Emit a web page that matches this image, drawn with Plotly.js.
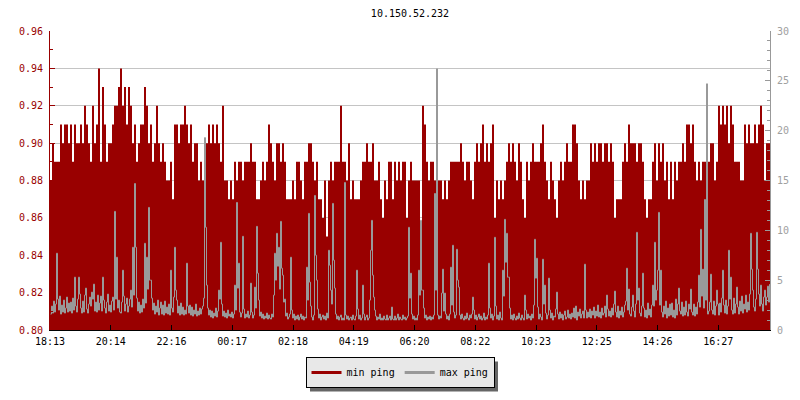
<!DOCTYPE html>
<html><head><meta charset="utf-8">
<script src="https://cdn.plot.ly/plotly-3.0.1.min.js"></script>
<style>html,body{margin:0;padding:0;background:#fff;}</style>
</head><body><div id="chart" style="width:800px;height:400px;"></div>
<script>
const chartTitle = '10.150.52.232';
const minStepMinutes = 4;
const maxStepMinutes = 2;
const spanMinutes = 1440;
const tickLabels = ['18:13','20:14','22:16','00:17','02:18','04:19','06:20','08:22','10:23','12:25','14:26','16:27'];
const tickSpacingMinutes = 121.5;
const seriesNames = ['min ping', 'max ping'];

// min ping (left axis), one value per 4 minutes
const minPing = [
0.88,0.90,0.89,0.89,0.89,0.91,0.90,0.91,0.91,0.90,
0.91,0.89,0.91,0.90,0.90,0.91,0.90,0.92,0.91,0.90,
0.89,0.92,0.90,0.91,0.94,0.89,0.93,0.91,0.89,0.90,
0.90,0.91,0.92,0.92,0.93,0.94,0.92,0.93,0.91,0.93,
0.92,0.90,0.91,0.89,0.90,0.91,0.91,0.93,0.92,0.90,
0.91,0.89,0.90,0.92,0.90,0.89,0.90,0.89,0.88,0.88,
0.89,0.87,0.91,0.91,0.90,0.91,0.91,0.92,0.91,0.90,
0.91,0.89,0.90,0.90,0.88,0.89,0.88,0.88,0.90,0.91,
0.90,0.91,0.90,0.91,0.90,0.89,0.92,0.88,0.88,0.87,
0.88,0.87,0.89,0.88,0.89,
0.89,0.88,0.89,0.89,0.89,0.90,0.89,0.89,0.87,0.87,
0.88,0.89,0.88,0.89,0.91,0.90,0.89,0.88,0.90,0.90,
0.89,0.90,0.89,0.87,0.87,0.87,0.88,0.87,0.89,0.89,
0.88,0.87,0.89,0.89,0.90,0.90,0.89,0.88,0.89,0.87,
0.87,0.86,0.88,0.85,0.88,0.89,0.88,0.89,0.89,0.89,
0.92,0.89,0.89,0.88,0.90,0.87,0.88,0.87,0.87,0.87,
0.88,0.89,0.89,0.90,0.89,0.89,0.90,0.88,0.88,0.89,
0.87,0.86,0.88,0.87,0.89,0.89,0.87,0.89,0.88,0.89,
0.88,0.89,0.89,0.86,0.88,0.89,0.88,0.88,0.88,0.88,
0.85,0.92,0.91,0.89,0.88,0.89,0.89,0.88,0.89,0.88,
0.88,0.87,0.88,0.87,0.88,0.89,0.89,0.89,0.89,0.89,
0.90,0.89,0.88,0.89,0.89,0.88,0.87,0.89,0.90,0.89,
0.90,0.91,0.89,0.90,0.89,0.90,0.91,0.86,0.88,0.87,
0.88,0.87,0.88,0.89,0.90,0.89,0.90,0.89,0.88,0.90,
0.89,0.87,0.86,0.89,0.88,0.89,0.90,0.89,0.89,0.89,
0.90,0.91,0.89,0.88,0.87,0.89,0.88,0.87,0.86,0.88,
0.89,0.88,0.89,0.90,0.89,0.89,0.91,0.91,0.90,0.88,
0.87,0.88,0.87,0.88,0.88,0.90,0.89,0.90,0.89,0.90,
0.90,0.89,0.90,0.90,0.89,0.90,0.89,0.86,0.87,0.87,
0.87,0.89,0.90,0.89,0.91,0.90,0.90,0.90,0.89,0.90,
0.90,0.89,0.87,0.86,0.87,0.87,0.89,0.90,0.88,0.90,
0.89,0.90,0.88,0.89,0.87,0.89,0.87,0.89,0.88,0.89,
0.89,0.90,0.89,0.91,0.91,0.90,0.91,0.89,0.88,0.89,
0.88,0.89,0.89,0.90,0.89,0.90,0.90,0.88,0.89,0.92,
0.91,0.92,0.91,0.92,0.90,0.92,0.91,0.89,0.89,0.89,
0.88,0.88,0.91,0.90,0.91,0.90,0.90,0.91,0.90,0.91,
0.92,0.91,0.88,0.90,0.90
];

// max ping (right axis), one value per 2 minutes
const maxPing = [
1.6,2.4,1.7,2.9,1.8,2.6,7.7,3.1,2.0,3.4,1.6,2.5,1.8,3.0,1.7,2.2,3.3,1.8,2.7,1.9,
2.8,1.7,3.2,2.0,5.3,2.4,1.8,3.1,5.3,3.6,2.2,1.7,2.9,1.8,3.5,4.2,2.1,1.7,2.6,3.3,
2.4,3.8,3.1,4.6,1.9,2.8,1.8,3.5,2.0,2.7,3.4,1.9,5.3,3.0,2.2,1.7,2.8,3.6,1.9,2.5,
1.8,2.9,3.3,2.0,11.9,3.1,7.3,2.2,3.0,1.8,1.7,2.8,6.0,3.4,1.9,2.6,3.2,1.8,2.4,3.1,
4.0,2.3,8.3,3.5,14.7,8.3,3.2,1.9,2.8,1.7,2.5,1.8,3.1,2.2,8.7,2.7,7.3,4.1,12.3,5.0,
5.0,3.2,2.0,2.7,1.6,2.4,1.8,3.0,1.5,2.2,2.8,1.6,2.5,1.5,2.9,1.7,2.3,1.6,2.6,1.5,
6.0,2.2,1.8,3.3,8.3,4.0,3.0,1.7,2.4,1.5,2.7,1.6,2.3,1.5,2.0,1.6,6.7,2.4,1.7,2.5,
1.5,2.3,1.4,2.0,1.6,2.6,1.4,1.9,1.5,2.2,1.6,2.1,2.4,3.2,19.3,10.3,4.5,2.2,1.5,2.0,
1.3,1.9,1.2,1.7,1.4,2.2,1.3,1.9,4.0,3.1,8.8,2.6,1.4,1.9,1.3,1.7,1.2,2.0,1.4,1.6,
1.3,1.8,1.2,1.6,4.5,2.0,12.8,4.2,6.7,1.8,1.3,1.7,9.4,2.1,1.2,1.6,1.3,1.9,1.2,1.5,
4.7,1.8,1.2,1.5,4.3,2.2,10.4,5.7,3.0,1.4,1.8,1.2,1.6,1.1,1.4,1.2,1.7,1.1,1.5,1.2,
1.1,1.6,1.3,3.5,7.7,5.0,9.7,6.4,8.3,4.1,10.9,6.2,5.5,2.8,3.1,1.4,1.7,1.1,1.3,1.6,
7.3,2.0,1.2,1.6,1.0,1.4,1.1,1.5,1.0,1.3,1.6,1.1,1.4,1.0,1.3,1.2,6.3,3.0,11.7,4.8,
2.4,1.3,1.0,1.5,13.5,7.5,5.0,2.1,1.2,1.6,1.0,1.3,1.5,1.1,1.4,1.0,1.7,1.2,8.0,6.5,
4.0,2.6,12.7,7.0,4.2,1.6,1.1,1.4,1.0,1.3,1.5,1.0,1.2,1.0,14.8,1.5,1.1,1.4,1.0,1.2,
1.3,1.0,1.5,1.1,1.0,1.4,6.0,2.1,1.1,1.5,1.0,1.2,4.5,1.6,1.0,1.3,1.5,1.0,1.2,3.0,
8.0,11.0,5.5,3.3,2.0,1.4,1.0,1.3,1.1,1.6,1.0,1.2,1.0,1.4,1.1,1.0,1.5,1.0,1.2,1.4,
1.0,2.3,1.1,1.0,1.4,1.0,1.2,1.6,1.0,1.3,1.1,1.0,1.5,1.1,1.3,1.0,1.2,1.4,10.3,3.2,
5.7,1.6,1.1,1.4,1.0,1.2,1.0,1.5,6.0,3.5,11.0,4.0,4.0,2.2,1.2,1.5,1.0,1.3,1.1,1.4,
1.0,1.3,1.1,1.5,13.7,4.0,26.2,1.5,1.1,1.4,1.2,3.7,6.1,1.9,3.7,1.6,1.1,1.4,1.0,1.6,
6.3,2.5,8.5,1.8,1.2,1.5,8.1,5.0,4.3,1.5,1.1,1.6,1.2,1.0,1.4,1.1,1.7,1.2,1.0,1.5,
1.2,1.6,3.3,2.0,1.1,1.5,1.0,1.3,1.6,1.1,1.4,1.0,1.2,1.7,1.0,1.3,1.1,1.5,6.7,2.2,
1.2,1.6,1.0,1.4,9.3,2.4,1.1,1.5,1.0,1.8,1.2,1.0,6.0,3.4,11.1,6.8,9.7,5.3,5.3,2.2,
1.1,1.5,1.0,1.6,1.2,1.0,1.4,1.1,1.7,1.2,1.0,1.5,1.2,1.0,3.5,2.0,1.1,1.6,1.2,1.4,
1.0,1.6,1.2,2.5,9.1,5.2,7.2,2.3,1.1,1.6,1.3,1.0,7.1,2.6,4.5,1.7,1.1,1.5,5.2,2.0,
1.2,1.7,1.0,1.4,1.3,2.1,3.8,1.6,1.1,1.8,1.2,1.6,1.0,1.5,1.9,1.1,1.3,2.0,1.2,1.6,
1.1,1.7,1.3,2.2,1.2,2.4,1.0,1.8,1.4,2.1,1.2,1.6,1.9,1.2,6.6,2.0,1.2,1.8,1.3,2.1,
1.2,1.9,1.5,2.3,1.2,1.9,1.4,2.5,1.3,1.8,1.2,2.2,1.5,1.7,2.4,1.3,3.5,2.1,1.4,1.9,
1.3,2.2,1.5,2.6,3.9,1.8,1.3,2.4,1.2,1.9,1.5,2.3,1.3,1.8,2.5,2.9,6.2,2.0,4.1,1.6,
1.4,2.3,3.5,1.9,1.3,2.6,9.8,3.0,4.2,1.7,1.4,2.4,5.7,2.2,1.3,2.0,1.2,2.7,1.5,2.1,
1.3,2.5,4.5,2.4,8.8,3.0,4.0,6.0,11.8,2.5,6.0,1.8,1.3,2.4,1.6,2.9,1.2,2.2,1.4,2.6,
1.5,2.7,1.3,2.0,1.2,3.1,1.5,2.6,4.2,1.9,1.6,2.8,1.4,2.3,1.5,2.9,1.8,1.4,2.6,2.1,
4.1,1.8,1.5,2.6,1.4,2.3,1.6,2.8,5.5,2.3,10.1,3.4,6.1,2.2,13.1,3.0,24.7,1.6,1.9,2.8,
5.6,2.0,1.6,2.9,1.5,2.4,4.0,2.6,1.5,2.7,1.8,3.2,6.0,2.5,1.7,3.0,1.6,2.4,8.0,3.1,
5.3,2.0,1.6,3.2,1.7,2.6,4.3,2.3,1.6,2.9,1.9,3.4,1.7,2.6,2.1,3.5,1.8,2.8,2.0,3.6,
9.7,6.1,4.0,2.3,1.9,3.1,9.8,6.1,3.6,2.4,4.5,2.6,1.9,3.3,4.0,2.5,3.3,4.4,2.8,4.6
];

const RED = '#990000';
const GRAY = '#999999';
const FONT = 'DejaVu Sans Mono, Liberation Mono, monospace';

// step series: each value holds until the next sample; the last step is closed at the end of the span
const minX = minPing.map((_, i) => i * minStepMinutes).concat([spanMinutes]);
const minY = minPing.concat([minPing[minPing.length - 1]]);
const halfStep = maxStepMinutes / 2;
const maxX = maxPing.map((_, i) => i * maxStepMinutes + halfStep);
const tickVals = tickLabels.map((_, i) => i * tickSpacingMinutes);

const traces = [
  {x: minX, y: minY, type: 'scatter', mode: 'lines', name: seriesNames[0],
   line: {shape: 'hv', width: 0, color: RED}, fill: 'tozeroy', fillcolor: RED,
   yaxis: 'y', showlegend: false},
  {x: maxX, y: maxPing, type: 'scatter', mode: 'lines', name: seriesNames[1],
   line: {shape: 'hv', width: 1, color: GRAY}, yaxis: 'y2', showlegend: false},
  {x: [null], y: [null], type: 'scatter', mode: 'lines', name: seriesNames[0],
   line: {width: 3, color: RED}, yaxis: 'y'},
  {x: [null], y: [null], type: 'scatter', mode: 'lines', name: seriesNames[1],
   line: {width: 3, color: GRAY}, yaxis: 'y2'}
];

const layout = {
  width: 800, height: 400,
  margin: {l: 50, r: 30, t: 31, b: 70, pad: 0},
  paper_bgcolor: '#ffffff', plot_bgcolor: '#ffffff',
  font: {family: FONT, size: 10, color: '#000'},
  title: {text: chartTitle, font: {family: FONT, size: 10, color: '#000'},
          x: 0.5, xref: 'paper', xanchor: 'center', y: 1 - 13/400, yref: 'container', yanchor: 'middle'},
  xaxis: {range: [0, spanMinutes], tickmode: 'array', tickvals: tickVals, ticktext: tickLabels,
          ticks: 'inside', ticklen: 5, tickcolor: '#000', tickwidth: 1, ticklabelstandoff: 2,
          showline: true, linecolor: '#000', linewidth: 1, showgrid: false, zeroline: false,
          tickfont: {family: FONT, size: 10, color: '#000'}, fixedrange: true},
  yaxis: {range: [0.80, 0.96], tick0: 0.80, dtick: 0.02, tickformat: '.2f',
          ticks: 'inside', ticklen: 5, tickcolor: RED, ticklabelstandoff: 4,
          showline: true, linecolor: RED, linewidth: 1,
          showgrid: true, gridcolor: '#c4c4c4', gridwidth: 1, zeroline: false,
          tickfont: {family: FONT, size: 10, color: RED},
          minor: {dtick: 0.01, ticks: 'inside', ticklen: 3, tickcolor: RED, showgrid: false}},
  yaxis2: {range: [0, 30], tick0: 0, dtick: 5, overlaying: 'y', side: 'right',
           ticks: 'inside', ticklen: 5, tickcolor: GRAY, ticklabelstandoff: 4,
           showline: true, linecolor: GRAY, linewidth: 1,
           showgrid: false, zeroline: false,
           tickfont: {family: FONT, size: 10, color: '#a0a0a0'},
           minor: {dtick: 1, ticks: 'inside', ticklen: 3, tickcolor: GRAY, showgrid: false}},
  showlegend: true,
  legend: {orientation: 'h', xref: 'container', yref: 'container', x: 0.5, xanchor: 'center',
           y: 1 - 357/400, yanchor: 'top', bgcolor: '#e8e8e8', bordercolor: '#000', borderwidth: 1,
           font: {family: FONT, size: 10, color: '#000'}, itemwidth: 30, tracegroupgap: 0}
};

Plotly.newPlot('chart', traces, layout, {displayModeBar: false, staticPlot: true}).then(gd => {
  // drop shadow behind the legend box, offset 4px right and down
  const bg = gd.querySelector('g.legend rect.bg');
  if (!bg) return;
  const r = bg.getBoundingClientRect();
  const c = gd.getBoundingClientRect();
  const s = gd._fullLayout._size;
  const off = 4;
  const L = r.left - c.left + off, T = r.top - c.top + off;
  const px = v => (v - s.l) / s.w;
  const py = v => (s.t + s.h - v) / s.h;
  return Plotly.relayout(gd, {shapes: [{type: 'rect', xref: 'paper', yref: 'paper',
    x0: px(L), x1: px(L + r.width), y0: py(T + r.height), y1: py(T),
    fillcolor: '#666666', line: {width: 0}, layer: 'above'}]});
});
</script></body></html>
